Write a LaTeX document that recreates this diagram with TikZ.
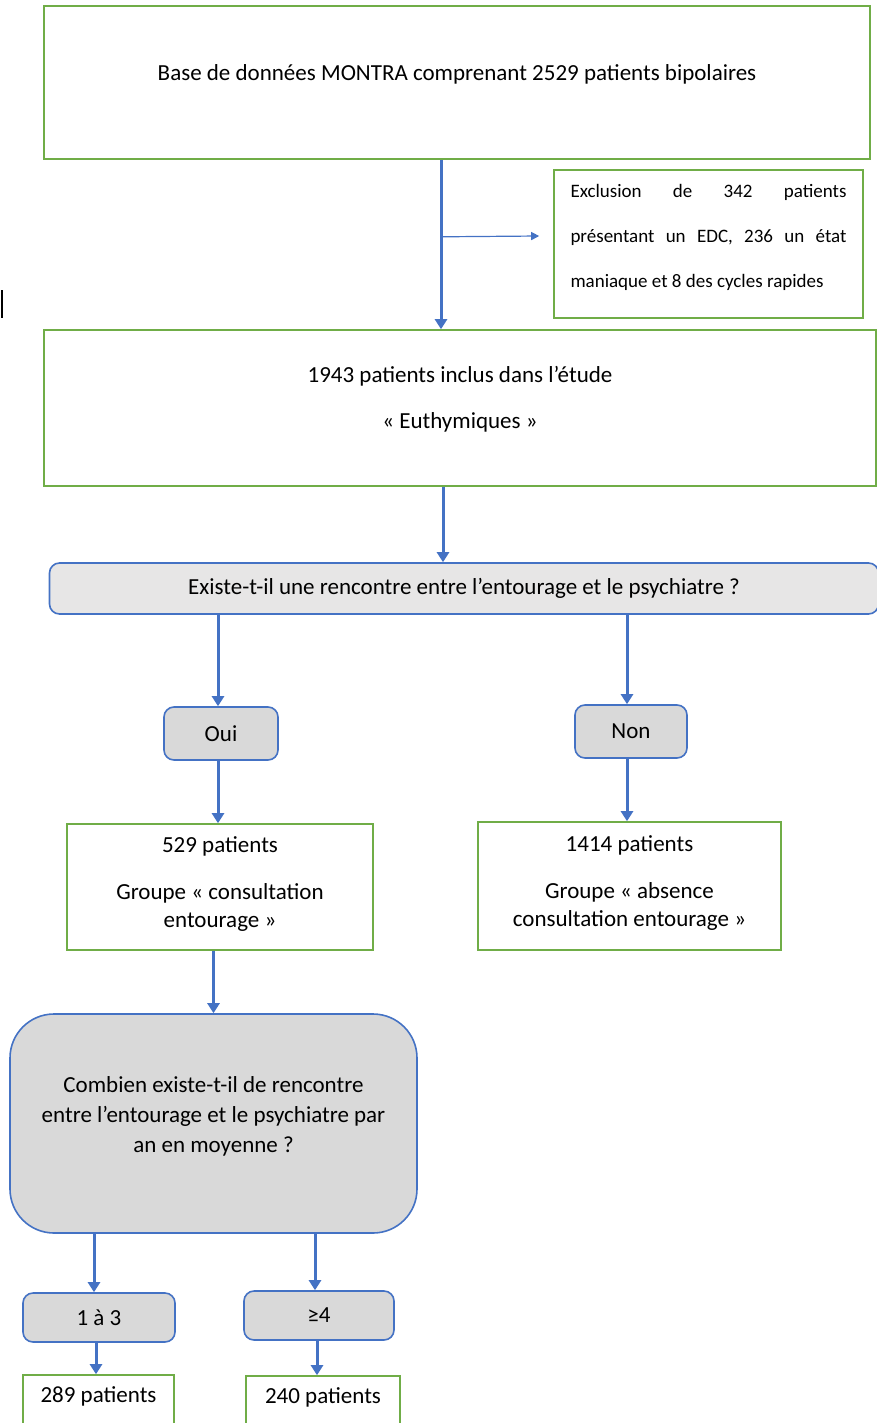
\documentclass[tikz,border=0pt]{standalone}
\usepackage{fontspec}
\setmainfont{Carlito}
\usetikzlibrary{arrows.meta}
\definecolor{vert}{RGB}{112,173,71}
\definecolor{bleu}{RGB}{68,114,196}
\definecolor{gris}{RGB}{217,217,217}
\definecolor{grisclair}{RGB}{231,230,230}

\begin{document}
\begin{tikzpicture}[x=0.5pt,y=-0.5pt,
  gbox/.style={draw=vert,line width=0.8pt,align=center,font=\fontsize{11.5}{14}\selectfont},
  bbox/.style={draw=bleu,line width=0.8pt,fill=gris,rounded corners=5pt,align=center,font=\fontsize{11.5}{14}\selectfont},
  arr/.style={draw=bleu,line width=1.5pt,-{Triangle[length=5pt,width=6pt]}},
  thinarr/.style={draw=bleu,line width=0.6pt,-{Triangle[length=4pt,width=4pt]}}]
  \useasboundingbox (0,0) rectangle (877,1423);
  \node [gbox,minimum width=413pt,minimum height=76.5pt,text depth=10pt] (top) at (457,82.5)
    {Base de données MONTRA comprenant 2529 patients bipolaires};
  \node [gbox,minimum width=154.5pt,minimum height=74pt,text width=138pt,align=justify,
    font=\fontsize{9.5}{22.5}\selectfont,text depth=53pt] (excl) at (708.5,244)
    {Exclusion de 342 patients\linebreak présentant un EDC, 236 un état\linebreak maniaque et 8 des cycles rapides};
  \node [gbox,minimum width=416pt,minimum height=78pt,font=\fontsize{11.5}{23}\selectfont,text depth=11pt] (incl) at (460,408)
    {1943 patients inclus dans l’étude\\« Euthymiques »};
  \node [bbox,fill=grisclair,minimum width=414.5pt,minimum height=25.5pt] (quest) at (464,588.5)
    {Existe-t-il une rencontre entre l’entourage et le psychiatre ?};
  \node [bbox,minimum width=57pt,minimum height=26.5pt] (oui) at (221,733.5) {Oui};
  \node [bbox,minimum width=56pt,minimum height=26.5pt] (non) at (631,731.5) {Non};
  \node [gbox,minimum width=153pt,minimum height=63pt,text depth=5pt] (g1) at (220,887)
    {529 patients\\[9.5pt]Groupe « consultation\\entourage »};
  \node [gbox,minimum width=151.5pt,minimum height=64pt,text depth=5pt] (g2) at (629.5,886)
    {1414 patients\\[9.5pt]Groupe « absence\\consultation entourage »};
  \node [bbox,rounded corners=22pt,minimum width=203.5pt,minimum height=109.5pt,
    font=\fontsize{11.5}{15}\selectfont,text depth=9pt] (combien) at (213.5,1123.5)
    {Combien existe-t-il de rencontre\\entre l’entourage et le psychiatre par\\an en moyenne ?};
  \node [bbox,minimum width=76pt,minimum height=24.5pt] (c13) at (99,1317.5) {1 à 3};
  \node [bbox,minimum width=75pt,minimum height=24.5pt] (c4) at (319,1315.5) {≥4};
  \node [gbox,minimum width=75.5pt,minimum height=25pt,text depth=5pt] (p289) at (98.5,1400) {289 patients};
  \node [gbox,minimum width=77pt,minimum height=25pt,text depth=5pt] (p240) at (323,1401) {240 patients};

  \draw [arr] ([xshift=-8pt]top.south) -- ([xshift=-8pt]top.south |- incl.north);
  \draw [thinarr] ([xshift=-8pt,yshift=-38.5pt]top.south) -- ([xshift=-7pt,yshift=4pt]excl.west);
  \draw [arr] ([xshift=-8.5pt]incl.south) -- ([xshift=-8.5pt]incl.south |- quest.north);
  \draw [arr] ([xshift=-1.5pt]quest.south -| oui.north) -- ([xshift=-1.5pt]oui.north);
  \draw [arr] ([xshift=-2pt]quest.south -| non.north) -- ([xshift=-2pt]non.north);
  \draw [arr] ([xshift=-1.5pt]oui.south) -- ([xshift=-1.5pt]oui.south |- g1.north);
  \draw [arr] ([xshift=-2pt]non.south) -- ([xshift=-2pt]non.south |- g2.north);
  \draw [arr] (combien.north |- g1.south) -- (combien.north);
  \draw [arr] ([xshift=-2.5pt]combien.south -| c13.north) -- ([xshift=-2.5pt]c13.north);
  \draw [arr] ([xshift=-2pt]combien.south -| c4.north) -- ([xshift=-2pt]c4.north);
  \draw [arr] ([xshift=-1.5pt]c13.south) -- ([xshift=-1.5pt]c13.south |- p289.north);
  \draw [arr] ([xshift=-1pt]c4.south) -- ([xshift=-1pt]c4.south |- p240.north);
  \draw [line width=1pt] (1.5,290) -- (1.5,318);
\end{tikzpicture}
\end{document}
